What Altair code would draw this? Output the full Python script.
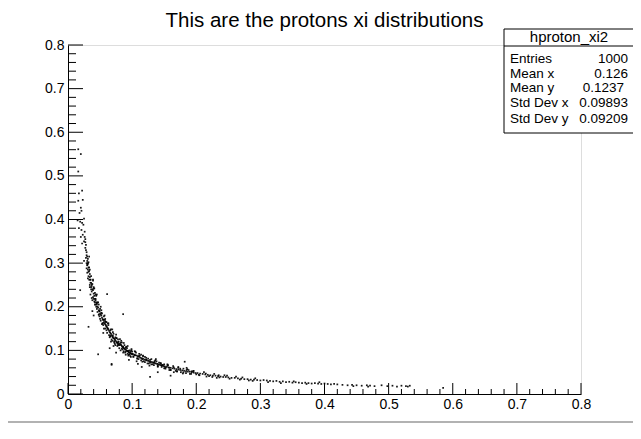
import altair as alt
import pandas as pd

# ---- scatter data, grouped by x band ----
top_x = [0.016, 0.020, 0.016, 0.022, 0.017, 0.023, 0.016, 0.020, 0.021, 0.018, 0.025, 0.015,
         0.019, 0.022, 0.024, 0.017, 0.021, 0.026, 0.023, 0.020, 0.027, 0.025, 0.022]
top_y = [0.561, 0.550, 0.510, 0.466, 0.460, 0.445, 0.443, 0.427, 0.420, 0.415, 0.402, 0.398,
         0.395, 0.392, 0.388, 0.380, 0.376, 0.372, 0.365, 0.360, 0.355, 0.350, 0.345]

b_x = [0.027, 0.028, 0.029, 0.030, 0.031, 0.032, 0.033, 0.034, 0.028, 0.030, 0.032, 0.029, 0.031,
       0.033, 0.035, 0.027, 0.030, 0.034, 0.029, 0.032, 0.031, 0.028, 0.033, 0.030, 0.035, 0.034,
       0.026, 0.031, 0.029, 0.032]
b_y = [0.335, 0.330, 0.318, 0.305, 0.298, 0.290, 0.282, 0.275, 0.312, 0.296, 0.270, 0.325, 0.285,
       0.262, 0.255, 0.348, 0.315, 0.268, 0.300, 0.280, 0.310, 0.342, 0.290, 0.278, 0.262, 0.250,
       0.360, 0.265, 0.288, 0.302]

c_x = [0.035, 0.036, 0.037, 0.038, 0.039, 0.040, 0.041, 0.042, 0.043, 0.044, 0.036, 0.038, 0.040,
       0.042, 0.044, 0.037, 0.039, 0.041, 0.043, 0.045, 0.035, 0.038, 0.040, 0.042, 0.036, 0.039,
       0.041, 0.044, 0.037, 0.043, 0.034, 0.045]
c_y = [0.262, 0.255, 0.248, 0.240, 0.238, 0.230, 0.225, 0.218, 0.215, 0.210, 0.240, 0.252, 0.218,
       0.232, 0.200, 0.235, 0.222, 0.242, 0.205, 0.208, 0.228, 0.215, 0.245, 0.205, 0.270, 0.260,
       0.212, 0.225, 0.220, 0.228, 0.245, 0.195]

d_x = [0.045, 0.046, 0.047, 0.048, 0.049, 0.050, 0.051, 0.052, 0.053, 0.054, 0.055, 0.056, 0.057,
       0.058, 0.059, 0.060, 0.046, 0.048, 0.050, 0.052, 0.054, 0.056, 0.058, 0.060, 0.047, 0.049,
       0.051, 0.053, 0.055, 0.057, 0.059, 0.050, 0.053, 0.056, 0.048, 0.058]
d_y = [0.205, 0.200, 0.198, 0.192, 0.190, 0.185, 0.182, 0.180, 0.175, 0.172, 0.170, 0.165, 0.162,
       0.160, 0.158, 0.155, 0.188, 0.205, 0.172, 0.192, 0.162, 0.178, 0.150, 0.165, 0.210, 0.178,
       0.168, 0.185, 0.158, 0.170, 0.165, 0.195, 0.160, 0.150, 0.182, 0.172]

e_x = [0.060, 0.061, 0.062, 0.063, 0.064, 0.065, 0.066, 0.067, 0.068, 0.069, 0.070, 0.071, 0.072,
       0.073, 0.074, 0.075, 0.076, 0.077, 0.078, 0.079, 0.080, 0.061, 0.063, 0.065, 0.067, 0.069,
       0.071, 0.073, 0.075, 0.077, 0.079, 0.062, 0.066, 0.070, 0.074, 0.078, 0.064, 0.068, 0.072,
       0.076, 0.080, 0.067, 0.071]
e_y = [0.155, 0.152, 0.150, 0.148, 0.145, 0.142, 0.140, 0.138, 0.135, 0.132, 0.130, 0.128, 0.127,
       0.125, 0.123, 0.120, 0.118, 0.117, 0.115, 0.114, 0.112, 0.140, 0.158, 0.130, 0.148, 0.122,
       0.138, 0.115, 0.128, 0.110, 0.120, 0.162, 0.132, 0.142, 0.112, 0.125, 0.135, 0.125, 0.118,
       0.128, 0.105, 0.120, 0.110]

f_x = [0.081, 0.082, 0.083, 0.084, 0.085, 0.086, 0.087, 0.088, 0.089, 0.090, 0.091, 0.092, 0.093,
       0.094, 0.095, 0.096, 0.097, 0.098, 0.099, 0.100, 0.082, 0.084, 0.086, 0.088, 0.090, 0.092,
       0.094, 0.096, 0.098, 0.100, 0.083, 0.087, 0.091, 0.095, 0.099, 0.085, 0.089, 0.093, 0.097]
f_y = [0.115, 0.113, 0.112, 0.110, 0.108, 0.107, 0.105, 0.104, 0.103, 0.102, 0.100, 0.099, 0.098,
       0.097, 0.096, 0.095, 0.094, 0.093, 0.092, 0.091, 0.100, 0.118, 0.095, 0.112, 0.090, 0.105,
       0.088, 0.100, 0.085, 0.097, 0.122, 0.098, 0.108, 0.090, 0.100, 0.102, 0.095, 0.092, 0.087]

g_x = [0.101, 0.103, 0.105, 0.107, 0.109, 0.111, 0.113, 0.115, 0.117, 0.119, 0.121, 0.123, 0.125,
       0.127, 0.129, 0.131, 0.133, 0.135, 0.137, 0.139, 0.141, 0.143, 0.145, 0.147, 0.149, 0.102,
       0.106, 0.110, 0.114, 0.118, 0.122, 0.126, 0.130, 0.134, 0.138, 0.142, 0.146, 0.150, 0.104,
       0.108, 0.112, 0.116, 0.120, 0.124, 0.128, 0.132, 0.136, 0.140, 0.144, 0.148, 0.107, 0.117,
       0.127, 0.137]
g_y = [0.092, 0.090, 0.089, 0.088, 0.086, 0.085, 0.083, 0.082, 0.081, 0.079, 0.078, 0.077, 0.076,
       0.075, 0.074, 0.073, 0.072, 0.071, 0.070, 0.069, 0.068, 0.067, 0.066, 0.065, 0.064, 0.085,
       0.095, 0.080, 0.090, 0.075, 0.083, 0.070, 0.080, 0.066, 0.075, 0.072, 0.062, 0.068, 0.098,
       0.082, 0.088, 0.074, 0.085, 0.070, 0.078, 0.068, 0.077, 0.063, 0.071, 0.067, 0.075, 0.088,
       0.065, 0.080]

h_x = [0.151, 0.154, 0.157, 0.160, 0.163, 0.166, 0.169, 0.172, 0.175, 0.178, 0.181, 0.184, 0.187,
       0.190, 0.193, 0.196, 0.199, 0.152, 0.156, 0.160, 0.164, 0.168, 0.172, 0.176, 0.180, 0.184,
       0.188, 0.192, 0.196, 0.200, 0.158, 0.165, 0.172, 0.179, 0.186, 0.193, 0.155, 0.170, 0.185]
h_y = [0.063, 0.062, 0.061, 0.060, 0.059, 0.058, 0.057, 0.056, 0.055, 0.054, 0.053, 0.052, 0.051,
       0.051, 0.050, 0.049, 0.048, 0.058, 0.066, 0.055, 0.064, 0.053, 0.060, 0.050, 0.058, 0.048,
       0.055, 0.046, 0.053, 0.045, 0.055, 0.050, 0.062, 0.047, 0.057, 0.052, 0.068, 0.052, 0.060]

i_x = [0.202, 0.206, 0.210, 0.214, 0.218, 0.222, 0.226, 0.230, 0.234, 0.238, 0.242, 0.246, 0.250,
       0.255, 0.260, 0.265, 0.270, 0.275, 0.280, 0.285, 0.290, 0.295, 0.300, 0.204, 0.212, 0.220,
       0.228, 0.236, 0.244, 0.252, 0.262, 0.272, 0.282, 0.292, 0.216, 0.232, 0.248, 0.268, 0.288]
i_y = [0.048, 0.047, 0.046, 0.045, 0.044, 0.043, 0.042, 0.042, 0.041, 0.040, 0.039, 0.039, 0.038,
       0.037, 0.037, 0.036, 0.035, 0.034, 0.034, 0.033, 0.033, 0.032, 0.031, 0.044, 0.050, 0.041,
       0.046, 0.038, 0.043, 0.035, 0.040, 0.038, 0.031, 0.036, 0.040, 0.037, 0.042, 0.033, 0.030]

j_x = [0.305, 0.310, 0.315, 0.320, 0.325, 0.330, 0.335, 0.340, 0.345, 0.350, 0.355, 0.360, 0.365,
       0.370, 0.375, 0.380, 0.385, 0.390, 0.395, 0.400, 0.405, 0.410, 0.415, 0.312, 0.332, 0.352,
       0.372, 0.392]
j_y = [0.032, 0.031, 0.030, 0.029, 0.030, 0.028, 0.029, 0.027, 0.028, 0.026, 0.027, 0.026, 0.025,
       0.026, 0.025, 0.024, 0.025, 0.024, 0.023, 0.024, 0.023, 0.022, 0.023, 0.027, 0.025, 0.029,
       0.023, 0.027]

k_x = [0.420, 0.428, 0.436, 0.443, 0.450, 0.458, 0.466, 0.471, 0.478, 0.489, 0.498, 0.506, 0.513,
       0.520, 0.527, 0.530, 0.533, 0.585, 0.445, 0.468]
k_y = [0.022, 0.021, 0.020, 0.021, 0.020, 0.019, 0.020, 0.019, 0.018, 0.020, 0.018, 0.019, 0.017,
       0.019, 0.018, 0.017, 0.019, 0.014, 0.018, 0.017]

wide_x = [0.030, 0.033, 0.036, 0.039, 0.042, 0.045, 0.048, 0.051, 0.054, 0.057, 0.060, 0.063,
          0.066, 0.069, 0.072, 0.075, 0.078, 0.081, 0.084, 0.087, 0.090, 0.093, 0.096, 0.099,
          0.102, 0.105, 0.108, 0.111, 0.114, 0.117, 0.120, 0.125, 0.130, 0.135, 0.140, 0.145,
          0.150, 0.155, 0.160, 0.165, 0.170, 0.175, 0.180, 0.185, 0.190, 0.195, 0.205, 0.215,
          0.225, 0.235]
wide_y = [0.295, 0.315, 0.245, 0.262, 0.210, 0.228, 0.182, 0.200, 0.162, 0.180, 0.146, 0.162,
          0.133, 0.148, 0.121, 0.136, 0.112, 0.126, 0.104, 0.117, 0.097, 0.110, 0.091, 0.103,
          0.086, 0.097, 0.081, 0.092, 0.077, 0.087, 0.073, 0.081, 0.068, 0.075, 0.063, 0.070,
          0.059, 0.065, 0.055, 0.061, 0.052, 0.058, 0.049, 0.055, 0.046, 0.052, 0.043, 0.047,
          0.039, 0.043]

core_x = [0.031, 0.034, 0.037, 0.040, 0.043, 0.046, 0.049, 0.052, 0.055, 0.058, 0.062, 0.066,
          0.070, 0.074, 0.078, 0.082, 0.086, 0.090, 0.094, 0.098, 0.104, 0.110, 0.116, 0.122,
          0.128, 0.134, 0.140, 0.146, 0.152, 0.158]
core_y = [0.300, 0.285, 0.252, 0.242, 0.218, 0.210, 0.190, 0.186, 0.170, 0.167, 0.150, 0.146,
          0.133, 0.130, 0.119, 0.118, 0.108, 0.107, 0.099, 0.098, 0.089, 0.087, 0.080, 0.079,
          0.072, 0.072, 0.066, 0.066, 0.061, 0.060]

out_x = [0.019, 0.032, 0.047, 0.068, 0.086, 0.061, 0.109, 0.068, 0.128, 0.182, 0.025, 0.040,
         0.075, 0.095, 0.055, 0.115, 0.140, 0.160, 0.038, 0.065]
out_y = [0.238, 0.154, 0.091, 0.069, 0.183, 0.229, 0.069, 0.067, 0.039, 0.074, 0.305, 0.180,
         0.095, 0.078, 0.140, 0.062, 0.050, 0.042, 0.190, 0.105]

# ---- axis tick values ----
major_ticks = [0.0, 0.1, 0.2, 0.3, 0.4, 0.5, 0.6, 0.7, 0.8]
minor_ticks = [round(i * 0.02, 2) for i in range(41) if i % 5 != 0]

# ---- stats box text ----
stats_name = "hproton_xi2"
stats_labels = ["Entries", "Mean x", "Mean y", "Std Dev x", "Std Dev y"]
stats_values = ["1000", "0.126", "0.1237", "0.09893", "0.09209"]

title_text = "This are the protons xi distributions"

# ---- build table ----
xs, ys = [], []
for bx, by in [(top_x, top_y), (b_x, b_y), (c_x, c_y), (d_x, d_y), (e_x, e_y), (f_x, f_y),
               (g_x, g_y), (h_x, h_y), (i_x, i_y), (j_x, j_y), (k_x, k_y),
               (wide_x, wide_y), (core_x, core_y), (out_x, out_y)]:
    for a, b in zip(bx, by):
        xs.append(a)
        ys.append(b)
points = pd.DataFrame({"x": xs, "y": ys})

FONT = "Liberation Sans"
W, H = 513, 349

xscale = alt.Scale(domain=[0, 0.8], nice=False, zero=False)
yscale = alt.Scale(domain=[0, 0.8], nice=False, zero=False)
xaxis = alt.Axis(values=major_ticks, format="~g", ticks=False, grid=False, title=None,
                 domainColor="black", domainWidth=1, labelFont=FONT, labelFontSize=14,
                 labelColor="black", labelPadding=3, labelFlush=False)
yaxis = alt.Axis(values=major_ticks, format="~g", ticks=False, grid=False, title=None,
                 domainColor="black", domainWidth=1, labelFont=FONT, labelFontSize=14,
                 labelColor="black", labelPadding=4, labelFlush=False)


def X(field="x"):
    return alt.X(f"{field}:Q", scale=xscale, axis=xaxis)


def Y(field="y"):
    return alt.Y(f"{field}:Q", scale=yscale, axis=yaxis)


dots = alt.Chart(points).mark_square(size=3, color="black", opacity=0.9).encode(x=X(), y=Y())

xmaj = alt.Chart(pd.DataFrame({"x": major_ticks})).mark_rule(color="black", strokeWidth=1).encode(
    x=X(), y=alt.value(H), y2=alt.value(H - 11))
xmin = alt.Chart(pd.DataFrame({"x": minor_ticks})).mark_rule(color="black", strokeWidth=1).encode(
    x=X(), y=alt.value(H), y2=alt.value(H - 5))
ymaj = alt.Chart(pd.DataFrame({"y": major_ticks})).mark_rule(color="black", strokeWidth=1).encode(
    y=Y(), x=alt.value(0), x2=alt.value(15))
ymin = alt.Chart(pd.DataFrame({"y": minor_ticks})).mark_rule(color="black", strokeWidth=1).encode(
    y=Y(), x=alt.value(0), x2=alt.value(8))

# title as a text mark (centred over the frame)
title = alt.Chart(pd.DataFrame({"t": [title_text]})).mark_text(
    font=FONT, fontSize=20.5, color="black", align="center", baseline="alphabetic").encode(
    text="t:N", x=alt.value(W / 2), y=alt.value(-18))

# stats box (annotation, placed in pixel space)
box_l, box_r, box_t, box_b = 436, 566, -16, 88
box = alt.Chart(pd.DataFrame({"n": [stats_name]})).mark_rect(
    fill="white", stroke="black", strokeWidth=1).encode(
    x=alt.value(box_l), x2=alt.value(box_r), y=alt.value(box_t), y2=alt.value(box_b))
sep = alt.Chart(pd.DataFrame({"n": [stats_name]})).mark_rule(color="black", strokeWidth=1).encode(
    x=alt.value(box_l), x2=alt.value(box_r), y=alt.value(1))
header = alt.Chart(pd.DataFrame({"t": [stats_name]})).mark_text(
    font=FONT, fontSize=15, color="black", align="center", baseline="middle").encode(
    text="t:N", x=alt.value(501), y=alt.value(-8))

row_y = [14, 29, 43, 58, 74]
value_right = [560, 560, 556, 560, 560]
stat_layers = []
for lab, val, ry, vr in zip(stats_labels, stats_values, row_y, value_right):
    stat_layers.append(alt.Chart(pd.DataFrame({"t": [lab]})).mark_text(
        font=FONT, fontSize=13.5, color="black", align="left", baseline="middle").encode(
        text="t:N", x=alt.value(442), y=alt.value(ry)))
    stat_layers.append(alt.Chart(pd.DataFrame({"t": [val]})).mark_text(
        font=FONT, fontSize=13.5, color="black", align="right", baseline="middle").encode(
        text="t:N", x=alt.value(vr), y=alt.value(ry)))

bottom_line = alt.Chart(pd.DataFrame({"n": [0]})).mark_rule(color="#666666", strokeWidth=1.2).encode(
    x=alt.value(-64), x2=alt.value(572), y=alt.value(377))

chart = alt.layer(
    dots, xmaj, xmin, ymaj, ymin, title, box, sep, header, *stat_layers, bottom_line
).properties(
    width=W, height=H,
    autosize=alt.AutoSizeParams(type="none"),
    padding={"left": 60, "top": 37, "right": 52, "bottom": 30},
).configure_view(stroke="#555555", strokeWidth=1).configure(background="white")

chart.save("out.html", embed_options={"renderer": "svg", "actions": False})
